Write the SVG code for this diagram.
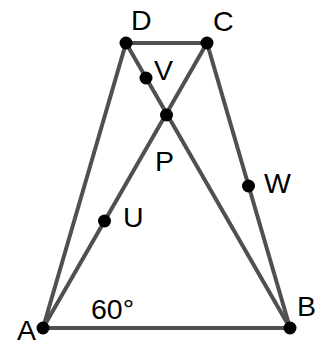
<svg xmlns="http://www.w3.org/2000/svg" width="321" height="347" viewBox="0 0 321 347">
<style>
.e{stroke:#505050;stroke-width:4;fill:none;stroke-linecap:round}
.pt{fill:#000}
.t{font-family:"Liberation Sans",Arial,sans-serif;font-size:28.5px;fill:#000}
</style>
<rect width="321" height="347" fill="#fff"/>
<g id="connectors">
<line class="e" x1="43" y1="328" x2="126" y2="43"/>
<line class="e" x1="126" y1="43" x2="207" y2="43"/>
<line class="e" x1="207" y1="43" x2="290" y2="328"/>
<line class="e" x1="43" y1="328" x2="290" y2="328"/>
<line class="e" x1="43" y1="328" x2="207" y2="43"/>
<line class="e" x1="126" y1="43" x2="290" y2="328"/>
</g>
<g id="D"><circle class="pt" cx="126" cy="43" r="6.5"/><text class="t" x="131" y="30">D</text></g>
<g id="C"><circle class="pt" cx="207" cy="43" r="6.5"/><text class="t" x="213" y="31">C</text></g>
<g id="V"><circle class="pt" cx="146" cy="78" r="6.5"/><text class="t" x="154" y="80">V</text></g>
<g id="P"><circle class="pt" cx="166.5" cy="115" r="6.5"/><text class="t" x="155" y="171">P</text></g>
<g id="U"><circle class="pt" cx="104.5" cy="221" r="6.5"/><text class="t" x="123" y="227">U</text></g>
<g id="W"><circle class="pt" cx="248.5" cy="186" r="6.5"/><text class="t" x="264" y="193">W</text></g>
<g id="A"><circle class="pt" cx="43" cy="328" r="6.5"/><text class="t" x="17" y="340">A</text></g>
<g id="B"><circle class="pt" cx="290" cy="328" r="6.5"/><text class="t" x="297" y="316">B</text></g>
<g id="angle"><text class="t" x="91" y="319">60°</text></g>
</svg>
